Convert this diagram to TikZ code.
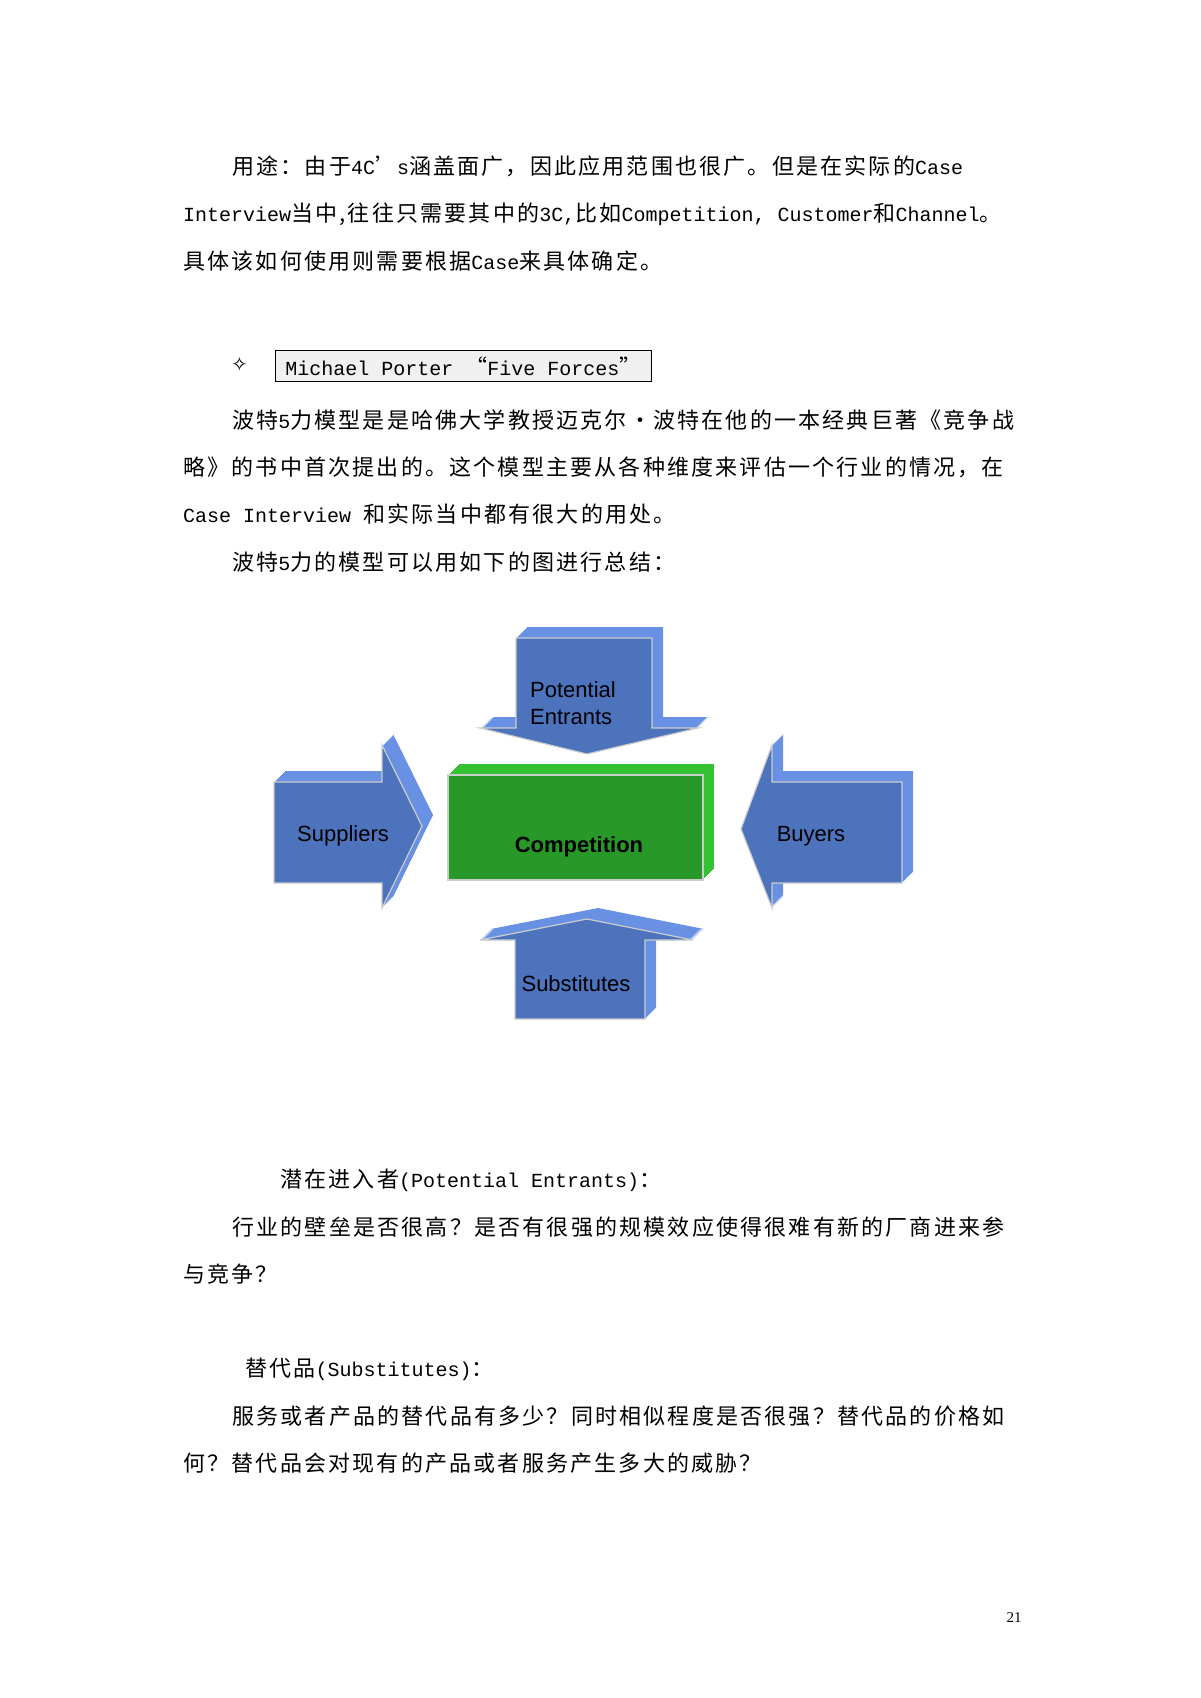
\documentclass[tikz,border=0pt]{standalone}
\usepackage{fontspec}
\setmainfont{Liberation Mono}
\newfontfamily\cjk[LetterSpace=10]{Noto Sans CJK SC}
\newfontfamily\arial{Liberation Sans}
\newfontfamily\djsym{DejaVu Sans}
\newcommand{\C}[1]{{\cjk\fontsize{22}{24}\selectfont #1}}
\definecolor{bfront}{HTML}{4D73BD}
\definecolor{bside}{HTML}{6891E3}
\definecolor{gfront}{HTML}{289828}
\definecolor{gside}{HTML}{34C234}
\begin{document}
\begin{tikzpicture}[x=1pt,y=-1pt,
  line/.style={anchor=west,inner sep=0pt,font=\fontsize{20}{24}\selectfont},
  lab/.style={inner sep=0pt,font=\arial\fontsize{22}{27}\selectfont,text=black},
  fr/.style={draw=gray!40,line width=1.2pt}]
\useasboundingbox (0,0) rectangle (1200,1698);
\fill[white] (0,0) rectangle (1200,1698);
% text top
\node[line] (t1) at (232,166) {\C{用途：由于}4C\C{’}s\C{涵盖面广，因此应用范围也很广。但是在实际的}Case};
\node[line] (t2) at (183,214) {Interview\C{当中,往往只需要其中的}3C,\C{比如}Competition, Customer\C{和}Channel\C{。}};
\node[line] (t3) at (183,261) {\C{具体该如何使用则需要根据}Case\C{来具体确定。}};
\node[line,font=\djsym\fontsize{20}{24}\selectfont] (star) at (231,364) {✧};
\node[line,draw=black,fill=gray!12,inner xsep=10pt,minimum height=31pt,line width=0.8pt] (hd) at (275,366) {Michael Porter \C{“}Five Forces\C{”}};
\node[line] (p1) at (232,420) {\C{波特}5\C{力模型是是哈佛大学教授迈克尔•波特在他的一本经典巨著《竞争战}};
\node[line] (p2) at (183,467) {\C{略》的书中首次提出的。这个模型主要从各种维度来评估一个行业的情况，在}};
\node[line] (p3) at (183,514) {Case Interview \C{和实际当中都有很大的用处。}};
\node[line] (p4) at (232,562) {\C{波特}5\C{力的模型可以用如下的图进行总结：}};
\node[line] (b1) at (280,1180) {\C{潜在进入者}(Potential Entrants)\C{：}};
\node[line] (b2) at (232,1227) {\C{行业的壁垒是否很高？是否有很强的规模效应使得很难有新的厂商进来参}};
\node[line] (b3) at (183,1274) {\C{与竞争？}};
\node[line] (b4) at (245,1369) {\C{替代品}(Substitutes)\C{：}};
\node[line] (b5) at (232,1416) {\C{服务或者产品的替代品有多少？同时相似程度是否很强？替代品的价格如}};
\node[line] (b6) at (183,1463) {\C{何？替代品会对现有的产品或者服务产生多大的威胁？}};
\node[inner sep=0pt,font=\fontsize{15}{18}\selectfont\rmfamily] (pg) at (1014,1618) {\fontspec{Liberation Serif}21};
% diagram
\foreach \k in {1,...,11}{
  \fill[bside,shift={(\k,-\k)}] (516,638)--(652,638)--(652,728)--(698,728)--(587,754)--(480,728)--(516,728)--cycle;
  \fill[bside,shift={(\k,-\k)}] (274,782)--(382,782)--(382,745)--(422,826)--(382,908)--(382,883)--(274,883)--cycle;
  \fill[bside,shift={(\k,-\k)}] (902,782)--(772,782)--(772,745)--(741,829)--(772,908)--(772,883)--(902,883)--cycle;
  \fill[bside,shift={(\k,-\k)}] (515,1019)--(645,1019)--(645,940)--(693,940)--(587,919)--(480,940)--(515,940)--cycle;
  \fill[gside,shift={(\k,-\k)}] (448,775) rectangle (703,880);
}
\filldraw[bfront,fr] (516,638)--(652,638)--(652,728)--(698,728)--(587,754)--(480,728)--(516,728)--cycle;
\filldraw[bfront,fr] (274,782)--(382,782)--(382,745)--(422,826)--(382,908)--(382,883)--(274,883)--cycle;
\filldraw[bfront,fr] (902,782)--(772,782)--(772,745)--(741,829)--(772,908)--(772,883)--(902,883)--cycle;
\filldraw[bfront,fr] (515,1019)--(645,1019)--(645,940)--(693,940)--(587,919)--(480,940)--(515,940)--cycle;
\filldraw[gfront,fr] (448,775) rectangle (703,880);
\node[lab,anchor=west,align=left] (pe) at (530,703) {Potential\\Entrants};
\node[lab] (su) at (343,836) {Suppliers};
\node[lab,font=\arial\bfseries\fontsize{22}{27}\selectfont] (co) at (579,847) {Competition};
\node[lab] (bu) at (811,836) {Buyers};
\node[lab] (sb) at (576,984) {Substitutes};
\end{tikzpicture}
\end{document}
